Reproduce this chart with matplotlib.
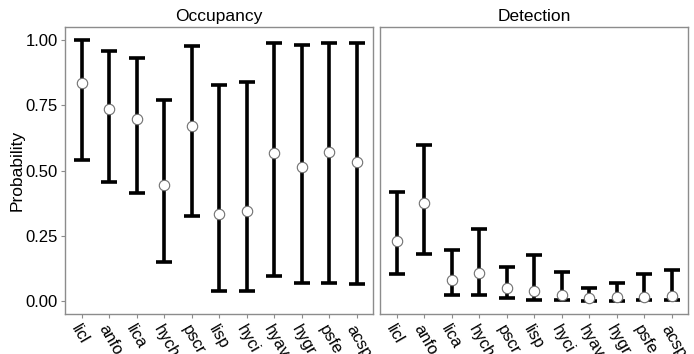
import matplotlib
matplotlib.use("Agg")
import matplotlib.pyplot as plt
import numpy as np

plt.rcParams["font.family"] = ["Liberation Sans", "DejaVu Sans"]

species = ["licl", "anfo", "lica", "hych", "pscr", "lisp", "hyci", "hyav", "hygr", "psfe", "acsp"]

occ_mean = [0.837, 0.737, 0.699, 0.443, 0.669, 0.335, 0.344, 0.568, 0.512, 0.572, 0.531]
occ_low = [0.541, 0.457, 0.414, 0.150, 0.326, 0.038, 0.038, 0.094, 0.070, 0.070, 0.066]
occ_high = [1.000, 0.959, 0.932, 0.770, 0.976, 0.829, 0.840, 0.990, 0.981, 0.987, 0.990]

det_mean = [0.229, 0.376, 0.080, 0.107, 0.050, 0.038, 0.023, 0.011, 0.014, 0.017, 0.018]
det_low = [0.102, 0.180, 0.023, 0.024, 0.010, 0.004, 0.002, 0.001, 0.001, 0.002, 0.002]
det_high = [0.418, 0.599, 0.194, 0.274, 0.130, 0.178, 0.111, 0.048, 0.068, 0.102, 0.117]

BORDER = "#8c8c8c"


def draw_panel(ax, title, mean, low, high, show_y):
    x = np.arange(len(species))
    mean = np.asarray(mean)
    err = [mean - np.asarray(low), np.asarray(high) - mean]
    ax.errorbar(x, mean, yerr=err, fmt="none", ecolor="black", elinewidth=2.6,
                capsize=5.5, capthick=2.6, zorder=2)
    ax.plot(x, mean, "o", ms=7.5, mfc="white", mec="#707070", mew=0.8, zorder=3)
    ax.set_xlim(-0.6, len(species) - 0.4)
    ax.set_ylim(-0.05, 1.05)
    ax.set_xticks(x)
    ax.set_xticklabels(species, rotation=-60, ha="left", va="top",
                       rotation_mode="anchor", fontsize=12)
    ax.set_title(title, fontsize=12.5, pad=4)
    for spine in ax.spines.values():
        spine.set_color(BORDER)
        spine.set_linewidth(1.0)
    ax.tick_params(axis="x", length=3, color=BORDER, pad=3)
    if show_y:
        ax.set_yticks([0, 0.25, 0.5, 0.75, 1.0])
        ax.set_yticklabels(["0.00", "0.25", "0.50", "0.75", "1.00"], fontsize=12)
        ax.tick_params(axis="y", length=3, color=BORDER, pad=2)
        ax.set_ylabel("Probability", fontsize=12.5, labelpad=1)
    else:
        ax.set_yticks([])


fig = plt.figure(figsize=(6.94, 3.54), dpi=100)
fig.patch.set_facecolor("white")
ax1 = fig.add_axes([0.0937, 0.113, 0.4438, 0.8107])
ax2 = fig.add_axes([0.5476, 0.113, 0.4438, 0.8107])
draw_panel(ax1, "Occupancy", occ_mean, occ_low, occ_high, True)
draw_panel(ax2, "Detection", det_mean, det_low, det_high, False)
fig.savefig("out.png", dpi=100, facecolor="white")
